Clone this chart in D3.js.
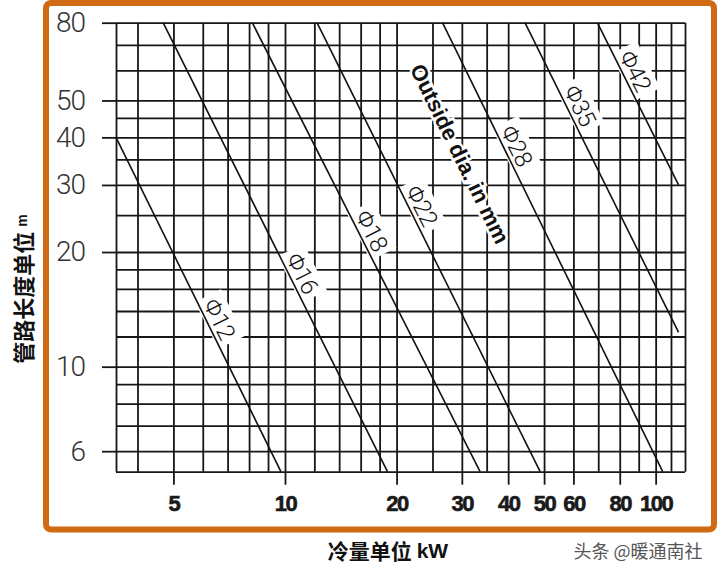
<!DOCTYPE html>
<html>
<head>
<meta charset="utf-8">
<script src="https://cdn.jsdelivr.net/npm/d3@7"></script>
<style>
  body { margin: 0; background: #fff; }
  svg { display: block; }
</style>
</head>
<body>
<svg width="720" height="576"></svg>
<script>
// grid values (log-log chart)
const xGrid = [3.5, 4, 5, 6, 7, 8, 9, 10, 12, 14, 16, 18, 20, 25, 30, 35, 40, 50, 60, 70, 80, 90, 100, 110, 120];
const yGrid = [5.3, 6, 7, 8, 9, 10, 12, 14, 16, 18, 20, 25, 30, 35, 40, 45, 50, 60, 70, 80];
const xTickLabels = [5, 10, 20, 30, 40, 50, 60, 80, 100];
const yTickLabels = [6, 10, 20, 30, 40, 50, 80];

// pipe lines (kW, m)
const pipeNames = ["Φ12", "Φ16", "Φ18", "Φ22", "Φ28", "Φ35", "Φ42"];
const pipeStartKW = [3.5, 4.69, 8.16, 12.2, 26.6, 44.4, 69.6];
const pipeStartM = [40, 80, 80, 80, 80, 80, 80];
const pipeEndKW = [9.75, 18.9, 33.6, 48.8, 104.5, 115.3, 115.3];
const pipeEndM = [5.3, 5.3, 5.3, 5.3, 5.3, 12.3, 30];
const labelAtM = [12.9, 17, 22, 25.6, 36.8, 46.9, 57.8];

const svg = d3.select("svg");

const x = d3.scaleLog().domain([3.5, 120]).range([116, 685]);
const y = d3.scaleLog().domain([5.3, 80]).range([471.7, 22.7]);

const numFont = "Roboto, 'Liberation Sans Narrow', sans-serif";

// orange frame
svg.append("rect")
    .attr("x", 46).attr("y", 3)
    .attr("width", 668).attr("height", 526.5)
    .attr("rx", 5)
    .attr("fill", "#fff")
    .attr("stroke", "#d06b14")
    .attr("stroke-width", 6);

// grid lines
const plotH = y(5.3) - y(80);
const plotW = x(120) - x(3.5);

svg.append("g")
    .attr("class", "xgrid")
    .attr("transform", `translate(0,${y(5.3)})`)
    .call(d3.axisBottom(x).tickValues(xGrid).tickSize(-plotH).tickFormat(""));

svg.append("g")
    .attr("class", "ygrid")
    .attr("transform", `translate(${x(3.5)},0)`)
    .call(d3.axisLeft(y).tickValues(yGrid).tickSize(-plotW).tickFormat(""));

// labelled ticks extend outside the grid
const xAxis = svg.append("g")
    .attr("class", "xaxis")
    .attr("transform", `translate(0,${y(5.3)})`)
    .call(d3.axisBottom(x).tickValues(xTickLabels).tickSize(13).tickPadding(11).tickFormat(d3.format("d")));

const yAxis = svg.append("g")
    .attr("class", "yaxis")
    .attr("transform", `translate(${x(3.5)},0)`)
    .call(d3.axisLeft(y).tickValues(yTickLabels).tickSize(14).tickPadding(17).tickFormat(d3.format("d")));

svg.selectAll(".xgrid .domain, .ygrid .domain, .xaxis .domain, .yaxis .domain").remove();
svg.selectAll(".xgrid line, .ygrid line, .xaxis line, .yaxis line")
    .attr("stroke", "#161616")
    .attr("stroke-width", 1.8);

xAxis.selectAll("text")
    .attr("font-family", "'Liberation Sans', Arial, sans-serif")
    .attr("font-weight", "bold")
    .attr("font-size", 22)
    .attr("letter-spacing", -1.5)
    .attr("fill", "#1a1a1a")
    .attr("stroke", "#1a1a1a")
    .attr("stroke-width", 0.6);

yAxis.selectAll("text")
    .attr("font-family", numFont)
    .attr("font-weight", 300)
    .attr("font-size", 28)
    .attr("letter-spacing", -1)
    .attr("fill", "#333");

// pipe lines
const pipes = pipeNames.map((name, i) => ({
    name: name,
    x1: x(pipeStartKW[i]), y1: y(pipeStartM[i]),
    x2: x(pipeEndKW[i]), y2: y(pipeEndM[i]),
    labelM: labelAtM[i]
}));

function labelTransform(d) {
    const t = (y(d.labelM) - d.y1) / (d.y2 - d.y1);
    const px = d.x1 + t * (d.x2 - d.x1);
    const py = d.y1 + t * (d.y2 - d.y1);
    const ang = Math.atan2(d.y2 - d.y1, d.x2 - d.x1) * 180 / Math.PI;
    return `translate(${px},${py}) rotate(${ang})`;
}

// white boxes behind labels break the grid, then the lines, then the text
const masks = svg.append("g").attr("class", "label-masks");
svg.append("g").attr("class", "pipes")
    .selectAll("line")
    .data(pipes)
    .enter()
    .append("line")
    .attr("x1", d => d.x1).attr("y1", d => d.y1)
    .attr("x2", d => d.x2).attr("y2", d => d.y2)
    .attr("stroke", "#111")
    .attr("stroke-width", 1.6);

const labels = svg.append("g").attr("class", "pipe-labels")
    .selectAll("g")
    .data(pipes)
    .enter()
    .append("g")
    .attr("transform", labelTransform);

labels.append("text")
    .attr("y", -4)
    .attr("text-anchor", "middle")
    .attr("font-family", numFont)
    .attr("font-weight", 300)
    .attr("font-size", 24)
    .attr("letter-spacing", -0.5)
    .attr("fill", "#111")
    .text(d => d.name);

labels.each(function (d) {
    const b = d3.select(this).select("text").node().getBBox();
    masks.append("rect")
        .attr("transform", labelTransform(d))
        .attr("x", b.x - 5).attr("y", b.y - 1)
        .attr("width", b.width + 10).attr("height", b.height + 1)
        .attr("fill", "#fff");
});

// "Outside dia. in mm"
const outAng = Math.atan2(pipes[4].y2 - pipes[4].y1, pipes[4].x2 - pipes[4].x1) * 180 / Math.PI;
svg.append("text")
    .attr("transform", `translate(${x(29.6)},${y(36.2)}) rotate(${outAng})`)
    .attr("text-anchor", "middle")
    .attr("dominant-baseline", "central")
    .attr("font-family", "'Liberation Sans', Arial, sans-serif")
    .attr("font-weight", "bold")
    .attr("font-size", 22)
    .attr("fill", "#111")
    .style("paint-order", "stroke")
    .attr("stroke", "#fff")
    .attr("stroke-width", 5)
    .text("Outside dia. in mm");

// axis titles
svg.append("text")
    .attr("transform", `translate(22,289) rotate(-90)`)
    .attr("text-anchor", "middle")
    .attr("dominant-baseline", "central")
    .attr("font-family", "'Noto Sans CJK SC', sans-serif")
    .attr("font-weight", "bold")
    .attr("font-size", 22)
    .attr("fill", "#111")
    .call(t => {
        t.append("tspan").text("管路长度单位 ");
        t.append("tspan").attr("font-size", 14).attr("font-family", "'Liberation Sans', sans-serif").text("m");
    });

svg.append("text")
    .attr("x", 388).attr("y", 550)
    .attr("text-anchor", "middle")
    .attr("dominant-baseline", "central")
    .attr("font-family", "'Noto Sans CJK SC', sans-serif")
    .attr("font-weight", "bold")
    .attr("font-size", 21)
    .attr("fill", "#111")
    .call(t => {
        t.append("tspan").text("冷量单位 ");
        t.append("tspan").attr("font-family", "'Liberation Sans', sans-serif").text("kW");
    });

svg.append("text")
    .attr("x", 638).attr("y", 550)
    .attr("text-anchor", "middle")
    .attr("dominant-baseline", "central")
    .attr("font-family", "'Noto Sans CJK SC', sans-serif")
    .attr("font-size", 18)
    .attr("fill", "#555")
    .text("头条 @暖通南社");
</script>
</body>
</html>
